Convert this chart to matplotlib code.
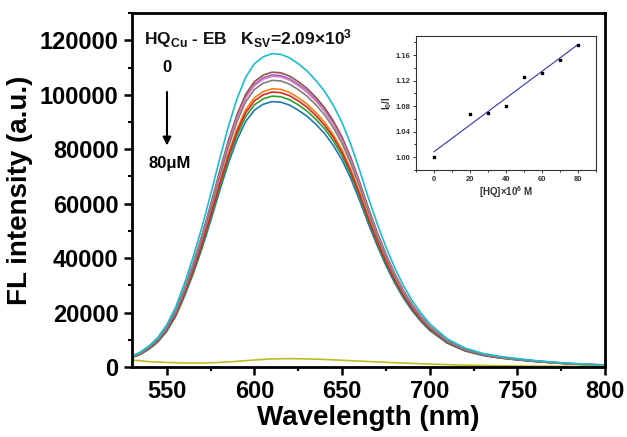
import numpy as np
import matplotlib
matplotlib.use("Agg")
import matplotlib.pyplot as plt
from matplotlib.ticker import MultipleLocator

plt.rcParams['font.family'] = ['Liberation Sans', 'DejaVu Sans']
plt.rcParams['font.weight'] = 'bold'
plt.rcParams['mathtext.fontset'] = 'custom'
plt.rcParams['mathtext.rm'] = 'Liberation Sans:bold'
plt.rcParams['mathtext.it'] = 'Liberation Sans:bold'
plt.rcParams['mathtext.bf'] = 'Liberation Sans:bold'
plt.rcParams['mathtext.default'] = 'bf'

# ---- main spectra data ----
wavelength = [530, 535, 540, 545, 550, 555, 560, 565, 570, 575, 580, 585, 590, 595,
              600, 605, 610, 615, 620, 625, 630, 635, 640, 645, 650, 655, 660, 665,
              670, 675, 680, 685, 690, 695, 700, 710, 720, 730, 740, 750, 760, 770,
              780, 790, 800]
shape = [0.035, 0.048, 0.068, 0.095, 0.135, 0.19, 0.265, 0.35, 0.445, 0.55, 0.66, 0.765,
         0.855, 0.925, 0.968, 0.99, 1.0, 0.998, 0.987, 0.968, 0.945, 0.915, 0.88, 0.835,
         0.78, 0.71, 0.628, 0.54, 0.458, 0.383, 0.317, 0.26, 0.212, 0.172, 0.138, 0.09,
         0.061, 0.044, 0.034, 0.027, 0.021, 0.016, 0.012, 0.009, 0.007]
# peak intensity of each spectrum (tab10 colour order, olive = blank)
peaks = [97500, 102200, 99500, 101000, 107300, 108300, 106800, 105300, None, 115100]
colors = ['#1f77b4', '#ff7f0e', '#2ca02c', '#d62728', '#9467bd', '#8c564b',
          '#e377c2', '#7f7f7f', '#bcbd22', '#17becf']

blank_wl = [530, 540, 550, 560, 570, 580, 590, 600, 610, 620, 630, 640, 650, 660,
            680, 700, 720, 750, 800]
blank_val = [2600, 2000, 1700, 1500, 1500, 1700, 2100, 2600, 3000, 3100, 3000, 2800,
             2500, 2200, 1600, 1100, 700, 400, 200]

# ---- inset data ----
conc = [0, 20, 30, 40, 50, 60, 70, 80]
ratio = [1.000, 1.067, 1.070, 1.080, 1.126, 1.132, 1.153, 1.176]

xticks_main = [550, 600, 650, 700, 750, 800]
yticks_main = [0, 20000, 40000, 60000, 80000, 100000, 120000]

fig = plt.figure(figsize=(6.27, 4.37), dpi=100)
ax = fig.add_axes([0.210, 0.160, 0.755, 0.810])

wl = np.array(wavelength)
sh = np.array(shape)
for pk, c in zip(peaks, colors):
    if pk is None:
        ax.plot(blank_wl, blank_val, color=c, lw=1.2)
    else:
        ax.plot(wl, sh * pk, color=c, lw=1.2)

ax.set_xlim(530, 800)
ax.set_ylim(0, 130000)
ax.set_xticks(xticks_main)
ax.set_yticks(yticks_main)
ax.xaxis.set_minor_locator(MultipleLocator(25))
ax.yaxis.set_minor_locator(MultipleLocator(10000))
ax.tick_params(which='major', direction='out', length=6, width=1.8,
               labelsize=17, top=False, right=False)
ax.tick_params(axis='x', which='major', pad=3)
ax.tick_params(which='minor', direction='out', length=3, width=1.5,
               top=False, right=False)
for lab in ax.get_xticklabels() + ax.get_yticklabels():
    lab.set_fontweight('bold')
for s in ax.spines.values():
    s.set_linewidth(2)
ax.set_xlabel('Wavelength (nm)', fontsize=20, fontweight='bold', labelpad=2)
ax.set_ylabel('FL intensity (a.u.)', fontsize=20, fontweight='bold', labelpad=5)

ax.text(0.027, 0.929, r'HQ$_{Cu}$ - EB   K$_{SV}$=2.09×10$^{3}$', transform=ax.transAxes,
        fontsize=12.5, fontweight='bold', ha='left', va='center', color='#111111')
ax.text(0.0746, 0.847, '0', transform=ax.transAxes, fontsize=12, fontweight='bold',
        ha='center', va='center')
ax.annotate('', xy=(0.0746, 0.618), xytext=(0.0746, 0.785), xycoords='axes fraction',
            arrowprops=dict(arrowstyle='-|>', color='black', lw=1.5, mutation_scale=12))
ax.text(0.08, 0.575, '80μM', transform=ax.transAxes, fontsize=12, fontweight='bold',
        ha='center', va='center')

# ---- inset ----
ins = fig.add_axes([0.6635, 0.611, 0.287, 0.3066])
ins.scatter(conc, ratio, s=4, marker='s', color='black', zorder=3)
k, b = np.polyfit(conc, ratio, 1)
xfit = np.array([min(conc), max(conc)])
ins.plot(xfit, k * xfit + b, color='#3333bb', lw=0.8)
ins.set_xlim(-10, 90)
ins.set_ylim(0.98, 1.19)
ins.set_xticks([0, 20, 40, 60, 80])
ins.set_yticks([1.00, 1.04, 1.08, 1.12, 1.16])
ins.set_yticklabels(['1.00', '1.04', '1.08', '1.12', '1.16'])
ins.xaxis.set_minor_locator(MultipleLocator(10))
ins.yaxis.set_minor_locator(MultipleLocator(0.02))
ins.tick_params(which='major', direction='out', length=2.5, width=0.7, labelsize=5.5,
                pad=1.5, colors='#333333')
ins.tick_params(which='minor', direction='out', length=1.5, width=0.6)
for lab in ins.get_xticklabels() + ins.get_yticklabels():
    lab.set_fontweight('bold')
for s in ins.spines.values():
    s.set_linewidth(0.8)
    s.set_color('#333333')
ins.set_xlabel(r'[HQ]×10$^{6}$ M', fontsize=7, fontweight='bold', labelpad=1, color='#333333')
ins.set_ylabel(r'I$_0$/I', fontsize=7, fontweight='bold', labelpad=1, color='#333333')

fig.savefig('out.png', dpi=100)
